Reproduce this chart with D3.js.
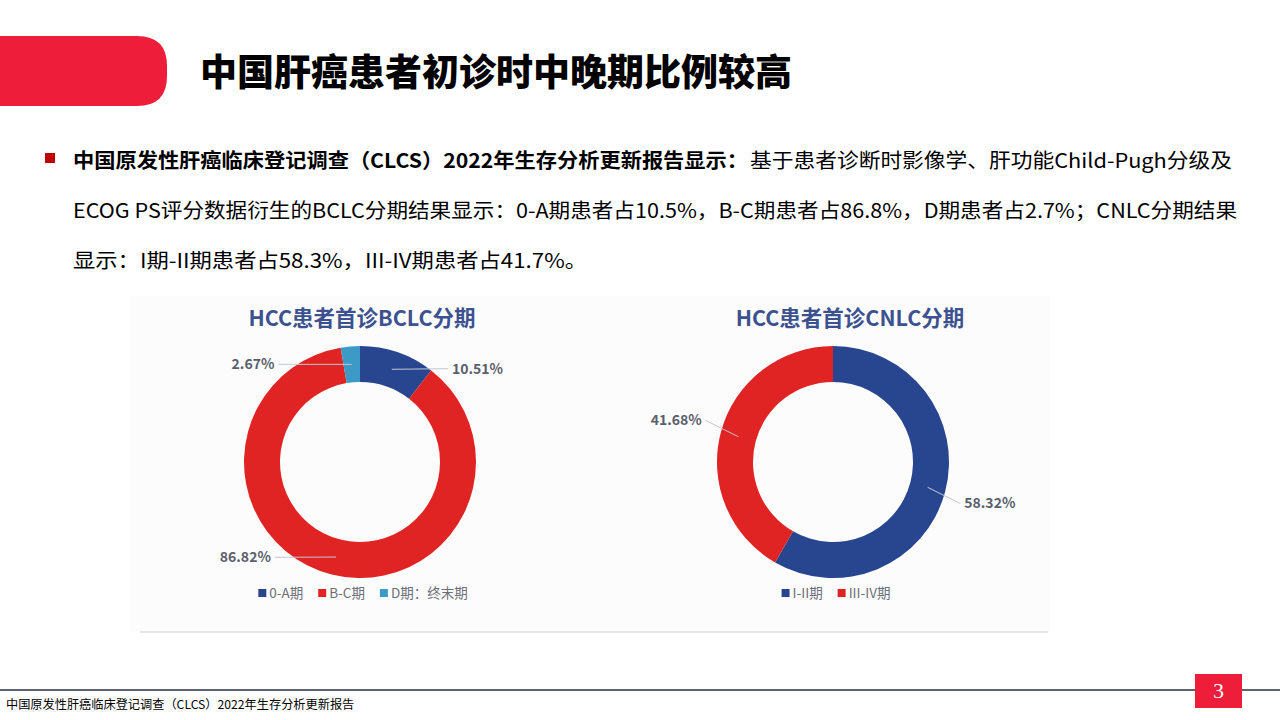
<!DOCTYPE html>
<html>
<head>
<meta charset="utf-8">
<script src="https://cdn.jsdelivr.net/npm/d3@7"></script>
<style>
  html, body { margin: 0; padding: 0; background: #fff; }
  svg { display: block; font-family: "Noto Sans CJK SC", "Noto Sans", sans-serif; }
</style>
</head>
<body>
<div id="slide"></div>
<script>

// chart data
var bclcLabels = ["0-A期", "B-C期", "D期：终末期"];
var bclcValues = [10.51, 86.82, 2.67];
var cnlcLabels = ["I-II期", "III-IV期"];
var cnlcValues = [58.32, 41.68];
var bclcColors = ["#284690", "#e02323", "#3b9bc6"];
var cnlcColors = ["#284690", "#e02323"];

var W = 1280, H = 720;

var svg = d3.select("#slide").append("svg")
  .attr("width", W).attr("height", H);

// header bar + title
var barH = 70, barW = 167, rr = 30, barY = 36;
svg.append("path")
  .attr("d", "M0," + barY + "H" + (barW - rr) +
       "Q" + barW + "," + barY + " " + barW + "," + (barY + rr) +
       "V" + (barY + barH - rr) +
       "Q" + barW + "," + (barY + barH) + " " + (barW - rr) + "," + (barY + barH) +
       "H0Z")
  .attr("fill", "#ee1d3a");

svg.append("text")
  .attr("x", 200).attr("y", 86)
  .attr("font-size", 37).attr("font-weight", 900)
  .attr("fill", "#000")
  .text("中国肝癌患者初诊时中晚期比例较高");

// paragraph (each line stretched to the slide's line widths)
svg.append("rect").attr("x", 45).attr("y", 153).attr("width", 10).attr("height", 10).attr("fill", "#c00000");

function para(x, y, len, txt, bold) {
  svg.append("text").attr("x", x).attr("y", y)
    .attr("font-size", 20).attr("font-weight", bold ? 700 : 400).attr("fill", "#000")
    .attr("textLength", len).attr("lengthAdjust", "spacingAndGlyphs")
    .text(txt);
}
para(73, 168, 675, "中国原发性肝癌临床登记调查（CLCS）2022年生存分析更新报告显示：", true);
para(750, 168, 482, "基于患者诊断时影像学、肝功能Child-Pugh分级及", false);
para(73, 218, 1164, "ECOG PS评分数据衍生的BCLC分期结果显示：0-A期患者占10.5%，B-C期患者占86.8%，D期患者占2.7%；CNLC分期结果", false);
para(73, 268, 514, "显示：I期-II期患者占58.3%，III-IV期患者占41.7%。", false);

// chart panel
svg.append("rect").attr("x", 130).attr("y", 296).attr("width", 920).attr("height", 336).attr("fill", "#fcfcfd");
svg.append("line").attr("x1", 140).attr("x2", 1048).attr("y1", 632).attr("y2", 632)
  .attr("stroke", "#e6e7ea").attr("stroke-width", 2);

var outerR = 116, innerR = 80;

function drawDonut(cx, cy, titleX, title, labels, values, colors) {
  var g = svg.append("g");

  g.append("text")
    .attr("x", titleX).attr("y", 326)
    .attr("text-anchor", "middle")
    .attr("font-size", 21.5).attr("font-weight", 700)
    .attr("fill", "#3c5190")
    .text(title);

  var pie = d3.pie().sort(null).value(function (d) { return d; });
  var arcs = pie(values);
  var arc = d3.arc().innerRadius(innerR).outerRadius(outerR);
  var color = d3.scaleOrdinal().domain(labels).range(colors);

  var ring = g.append("g").attr("transform", "translate(" + cx + "," + cy + ")");
  ring.selectAll("path")
    .data(arcs)
    .enter()
    .append("path")
    .attr("d", arc)
    .attr("fill", function (d, i) { return color(labels[i]); });

  // label lines: from slice centroid out to the side of the ring
  arcs.forEach(function (d) {
    var c = arc.centroid(d);
    var a = (d.startAngle + d.endAngle) / 2;
    var s = Math.sin(a);
    var side = s >= 0 ? 1 : -1;
    var ly = c[1] + (c[1] >= 0 ? 1 : -1) * 18 * Math.pow(Math.abs(s), 3);
    var edge = Math.abs(ly) < outerR ? Math.sqrt(outerR * outerR - ly * ly) : 0;
    var lx = side * (edge + 19);

    ring.append("path")
      .attr("d", d3.line()([c, [lx, ly]]))
      .attr("fill", "none")
      .attr("stroke", "#c3c7d0")
      .attr("stroke-width", 1);

    ring.append("text")
      .attr("x", lx + side * 4).attr("y", ly)
      .attr("dy", "0.35em")
      .attr("text-anchor", side > 0 ? "start" : "end")
      .attr("font-size", 14).attr("font-weight", 700)
      .attr("fill", "#5b5f6b")
      .text(d3.format(".2f")(d.data) + "%");
  });

  // legend centred under the donut
  var leg = g.append("g").attr("transform", "translate(0,593)");
  var x = 0;
  labels.forEach(function (name, i) {
    var item = leg.append("g").attr("transform", "translate(" + x + ",0)");
    item.append("rect").attr("x", 0).attr("y", -4).attr("width", 8).attr("height", 8)
      .attr("fill", color(name));
    var t = item.append("text").attr("x", 11).attr("dy", "0.35em")
      .attr("font-size", 13.5).attr("fill", "#6b6e78").text(name);
    x += 11 + t.node().getComputedTextLength() + 15;
  });
  var total = x - 15;
  leg.attr("transform", "translate(" + (cx + 3 - total / 2) + ",593)");
}

drawDonut(360, 462, 362, "HCC患者首诊BCLC分期", bclcLabels, bclcValues, bclcColors);
drawDonut(833, 462, 850, "HCC患者首诊CNLC分期", cnlcLabels, cnlcValues, cnlcColors);

// footer
svg.append("line").attr("x1", 0).attr("x2", W).attr("y1", 690).attr("y2", 690)
  .attr("stroke", "#5a6370").attr("stroke-width", 2);
svg.append("text").attr("x", 6).attr("y", 709)
  .attr("font-size", 12.2).attr("fill", "#000")
  .text("中国原发性肝癌临床登记调查（CLCS）2022年生存分析更新报告");
svg.append("rect").attr("x", 1195).attr("y", 674).attr("width", 47).attr("height", 34).attr("fill", "#ee1d3a");
svg.append("text").attr("x", 1218.5).attr("y", 698).attr("text-anchor", "middle")
  .attr("font-family", "'Liberation Serif', serif").attr("font-size", 22).attr("fill", "#fff")
  .text("3");

</script>
</body>
</html>
